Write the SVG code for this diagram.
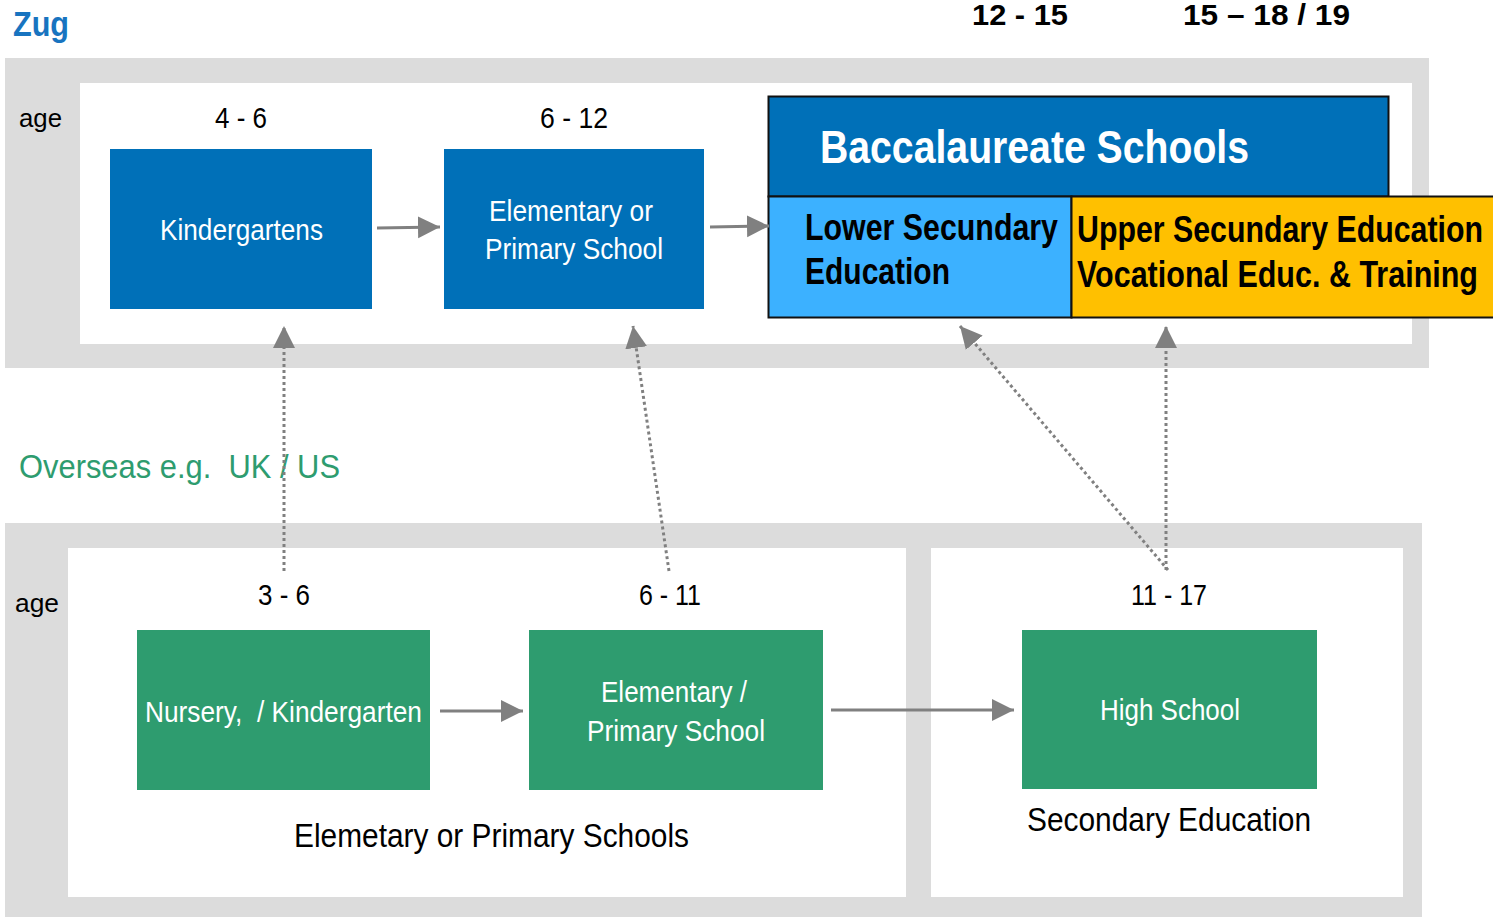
<svg xmlns="http://www.w3.org/2000/svg" width="1493" height="917" viewBox="0 0 1493 917">
<style>
text{font-family:"Liberation Sans",Arial,sans-serif;white-space:pre}
.panel{fill:#DCDCDC}
.inner{fill:#FFFFFF}
.blue{fill:#0070B8}
.green{fill:#2E9C6F}
.wt{fill:#FFFFFF;font-size:29px}
.bk{fill:#000000}
.age{fill:#000000;font-size:26px}
.num{fill:#000000;font-size:30px}
.bold{font-weight:bold}
.solid{stroke:#808080;stroke-width:3;fill:none}
.dot{stroke:#808080;stroke-width:3;fill:none;stroke-dasharray:3 3}
</style>
<defs>
<marker id="ah" markerUnits="userSpaceOnUse" markerWidth="24" markerHeight="24" viewBox="0 0 24 24" refX="22" refY="12" orient="auto">
<path d="M0,1 L22,12 L0,23 Z" fill="#808080"/>
</marker>
</defs>
<rect width="1493" height="917" fill="#FFFFFF"/>

<g id="titles">
<text x="13" y="36" font-size="35" font-weight="bold" fill="#1874C0" textLength="56" lengthAdjust="spacingAndGlyphs">Zug</text>
<text x="972" y="25" class="num bold" textLength="96" lengthAdjust="spacingAndGlyphs">12 - 15</text>
<text x="1183" y="25" class="num bold" textLength="167" lengthAdjust="spacingAndGlyphs">15 – 18 / 19</text>
<text x="19" y="478" font-size="33" fill="#2E9C6F" textLength="321" lengthAdjust="spacingAndGlyphs" xml:space="preserve">Overseas e.g.  UK / US</text>
</g>

<g id="zug-panel">
<rect class="panel" x="5" y="58" width="1424" height="310"/>
<rect class="inner" x="80" y="83" width="1332" height="261"/>
<text x="19" y="127" class="age" textLength="43" lengthAdjust="spacingAndGlyphs">age</text>
<text x="215" y="128" class="num" textLength="52" lengthAdjust="spacingAndGlyphs">4 - 6</text>
<text x="540" y="128" class="num" textLength="68" lengthAdjust="spacingAndGlyphs">6 - 12</text>
</g>

<g id="overseas-panel">
<rect class="panel" x="5" y="523" width="1417" height="394"/>
<rect class="inner" x="68" y="548" width="838" height="349"/>
<rect class="inner" x="931" y="548" width="472" height="349"/>
<text x="15" y="612" class="age" textLength="44" lengthAdjust="spacingAndGlyphs">age</text>
<text x="258" y="605" class="num" textLength="52" lengthAdjust="spacingAndGlyphs">3 - 6</text>
<text x="639" y="605" class="num" textLength="62" lengthAdjust="spacingAndGlyphs">6 - 11</text>
<text x="1131" y="605" class="num" textLength="76" lengthAdjust="spacingAndGlyphs">11 - 17</text>
<text x="294" y="847" font-size="34" class="bk" textLength="395" lengthAdjust="spacingAndGlyphs">Elemetary or Primary Schools</text>
<text x="1027" y="831" font-size="34" class="bk" textLength="284" lengthAdjust="spacingAndGlyphs">Secondary Education</text>
</g>

<g id="kindergartens">
<rect class="blue" x="110" y="149" width="262" height="160"/>
<text x="160" y="240" class="wt" textLength="163" lengthAdjust="spacingAndGlyphs">Kindergartens</text>
</g>

<g id="elementary-zug">
<rect class="blue" x="444" y="149" width="260" height="160"/>
<text x="489" y="221" class="wt" textLength="164" lengthAdjust="spacingAndGlyphs">Elementary or</text>
<text x="485" y="259" class="wt" textLength="178" lengthAdjust="spacingAndGlyphs">Primary School</text>
</g>

<g id="baccalaureate">
<rect x="768.5" y="96.5" width="620" height="100" fill="#0070B8" stroke="#111111" stroke-width="2"/>
<text x="820" y="163" font-size="46" font-weight="bold" fill="#FFFFFF" textLength="429" lengthAdjust="spacingAndGlyphs">Baccalaureate Schools</text>
</g>

<g id="lower-secundary">
<rect x="768.5" y="196.5" width="303" height="121" fill="#3CB1FF" stroke="#111111" stroke-width="2"/>
<text x="805" y="240" font-size="36" font-weight="bold" class="bk" textLength="253" lengthAdjust="spacingAndGlyphs">Lower Secundary</text>
<text x="805" y="284" font-size="36" font-weight="bold" class="bk" textLength="145" lengthAdjust="spacingAndGlyphs">Education</text>
</g>

<g id="upper-secundary">
<path d="M1493,196.5 H1071.5 V317.5 H1493" fill="#FFC000" stroke="#111111" stroke-width="2"/>
<text x="1077" y="242" font-size="36" font-weight="bold" class="bk" textLength="406" lengthAdjust="spacingAndGlyphs">Upper Secundary Education</text>
<text x="1077" y="287" font-size="36" font-weight="bold" class="bk" textLength="401" lengthAdjust="spacingAndGlyphs">Vocational Educ. &amp; Training</text>
</g>

<g id="nursery">
<rect class="green" x="137" y="630" width="293" height="160"/>
<text x="145" y="722" class="wt" textLength="277" lengthAdjust="spacingAndGlyphs" xml:space="preserve">Nursery,  / Kindergarten</text>
</g>

<g id="elementary-overseas">
<rect class="green" x="529" y="630" width="294" height="160"/>
<text x="601" y="702" class="wt" textLength="146" lengthAdjust="spacingAndGlyphs">Elementary /</text>
<text x="587" y="741" class="wt" textLength="178" lengthAdjust="spacingAndGlyphs">Primary School</text>
</g>

<g id="high-school">
<rect class="green" x="1022" y="630" width="295" height="159"/>
<text x="1100" y="720" class="wt" textLength="140" lengthAdjust="spacingAndGlyphs">High School</text>
</g>

<g id="connectors">
<line class="solid" x1="377" y1="228" x2="440" y2="227" marker-end="url(#ah)"/>
<line class="solid" x1="710" y1="227" x2="769" y2="226" marker-end="url(#ah)"/>
<line class="solid" x1="440" y1="711" x2="523" y2="711" marker-end="url(#ah)"/>
<line class="solid" x1="831" y1="710" x2="1014" y2="710" marker-end="url(#ah)"/>
<line class="dot" x1="284" y1="571" x2="284" y2="326" marker-end="url(#ah)"/>
<line class="dot" x1="669" y1="571" x2="633" y2="326" marker-end="url(#ah)"/>
<line class="dot" x1="1168" y1="570" x2="960" y2="326" marker-end="url(#ah)"/>
<line class="dot" x1="1166" y1="570" x2="1166" y2="326" marker-end="url(#ah)"/>
</g>
</svg>
